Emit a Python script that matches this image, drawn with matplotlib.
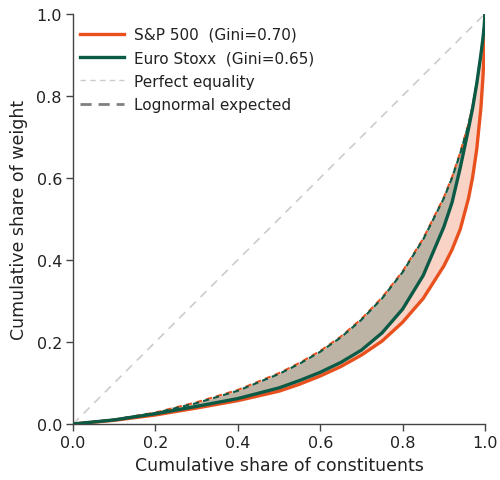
import matplotlib

matplotlib.use("Agg")
import matplotlib.pyplot as plt
from matplotlib.lines import Line2D

# Lorenz curves
share_x = [0.0, 0.1, 0.2, 0.3, 0.4, 0.5, 0.55, 0.6, 0.65, 0.7, 0.75, 0.8,
           0.85, 0.9, 0.92, 0.94, 0.96, 0.97, 0.98, 0.99, 0.995, 0.998, 1.0]
sp500 = [0.0, 0.009, 0.022, 0.039, 0.057, 0.08, 0.097, 0.117, 0.14, 0.168,
         0.202, 0.248, 0.306, 0.385, 0.425, 0.475, 0.55, 0.602, 0.67, 0.77,
         0.845, 0.905, 1.0]
eurostoxx = [0.0, 0.01, 0.025, 0.043, 0.062, 0.088, 0.106, 0.126, 0.15,
             0.18, 0.222, 0.28, 0.362, 0.48, 0.54, 0.625, 0.72, 0.77, 0.83,
             0.9, 0.94, 0.97, 1.0]
sp500_lognormal = [0.0, 0.011, 0.028, 0.053, 0.083, 0.124, 0.149, 0.178,
                   0.213, 0.256, 0.308, 0.372, 0.452, 0.552, 0.602, 0.662,
                   0.732, 0.777, 0.832, 0.902, 0.94, 0.97, 1.0]
euro_lognormal = [0.0, 0.011, 0.027, 0.051, 0.081, 0.122, 0.147, 0.176,
                  0.211, 0.254, 0.306, 0.37, 0.45, 0.55, 0.6, 0.66, 0.73,
                  0.775, 0.83, 0.9, 0.938, 0.97, 1.0]

SP_COLOR = "#E8501E"
EU_COLOR = "#0B5A45"

fig = plt.figure(figsize=(5.0, 4.81), dpi=100)
ax = fig.add_axes([0.146, 0.1164, 0.824, 0.853])

ax.plot([0, 1], [0, 1], color="#cccccc", lw=1.2, ls=(0, (5, 4)), zorder=1)

ax.fill_between(share_x, sp500, sp500_lognormal, color=SP_COLOR, alpha=0.25,
                lw=0, zorder=2)
ax.fill_between(share_x, eurostoxx, euro_lognormal, color=EU_COLOR, alpha=0.25,
                lw=0, zorder=2)

ax.plot(share_x, sp500_lognormal, color=SP_COLOR, lw=1.5, ls=(0, (3, 2)),
        zorder=3)
ax.plot(share_x, euro_lognormal, color=EU_COLOR, lw=1.5, ls=(1.5, (3, 2)),
        zorder=3)
ax.plot(share_x, sp500, color=SP_COLOR, lw=2.4, zorder=4,
        solid_joinstyle="round")
ax.plot(share_x, eurostoxx, color=EU_COLOR, lw=2.4, zorder=5,
        solid_joinstyle="round")

ax.set_xlim(0, 1)
ax.set_ylim(0, 1)
ax.set_xticks([0.0, 0.2, 0.4, 0.6, 0.8, 1.0])
ax.set_yticks([0.0, 0.2, 0.4, 0.6, 0.8, 1.0])
ax.set_xticklabels(["0.0", "0.2", "0.4", "0.6", "0.8", "1.0"])
ax.set_yticklabels(["0.0", "0.2", "0.4", "0.6", "0.8", "1.0"])
for side in ("top", "right"):
    ax.spines[side].set_visible(False)
for side in ("left", "bottom"):
    ax.spines[side].set_color("#444444")
    ax.spines[side].set_linewidth(1.0)
ax.tick_params(direction="out", length=5, width=1, color="#444444",
               labelsize=11.5, labelcolor="#222222", pad=3)
ax.set_xlabel("Cumulative share of constituents", fontsize=12.5,
              color="#222222", labelpad=4)
ax.set_ylabel("Cumulative share of weight", fontsize=12.5, color="#222222",
              labelpad=6)

handles = [
    Line2D([], [], color=SP_COLOR, lw=2.4),
    Line2D([], [], color=EU_COLOR, lw=2.4),
    Line2D([], [], color="#cccccc", lw=1.0, ls=(0, (4, 3))),
    Line2D([], [], color="#808080", lw=2.0, ls=(0, (4, 2.5))),
]
labels = ["S&P 500  (Gini=0.70)", "Euro Stoxx  (Gini=0.65)",
          "Perfect equality", "Lognormal expected"]
leg = ax.legend(handles, labels, loc="upper left", frameon=False,
                fontsize=11, bbox_to_anchor=(-0.005, 0.99), handlelength=2.9,
                handletextpad=0.65, labelspacing=0.55, borderaxespad=0.3,
                borderpad=0.3)
for text in leg.get_texts():
    text.set_color("#222222")

fig.savefig("out.png", dpi=100)
